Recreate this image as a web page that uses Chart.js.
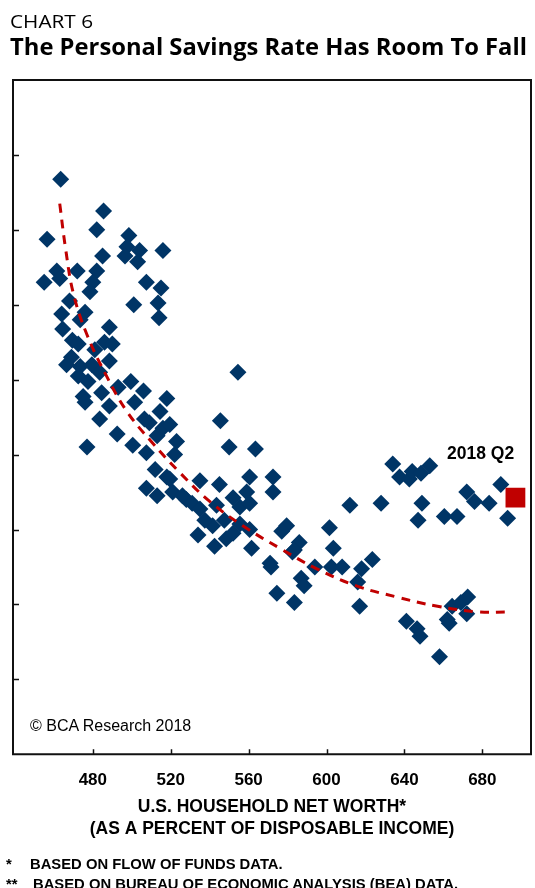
<!DOCTYPE html>
<html>
<head>
<meta charset="utf-8">
<script src="https://cdn.jsdelivr.net/npm/chart.js@4.4.1/dist/chart.umd.min.js"></script>
<style>
  html, body { margin: 0; padding: 0; background: #fff; }
  body { width: 535px; height: 888px; position: relative; overflow: hidden; }
  canvas { position: absolute; left: 0; top: 0; }
  .t { position: absolute; white-space: nowrap; line-height: 1; color: #000; transform-origin: 0 0; }
  .arial { font-family: 'Liberation Sans', Arial, sans-serif; }
  .note { font-size: 14.8px; font-weight: 700; }
</style>
</head>
<body>
<canvas id="chart" width="535" height="888"></canvas>

<div class="t" id="kicker" style="left:10px;top:12px;font-family:'Open Sans';font-size:18px;">CHART 6</div>
<div class="t" id="headline" style="left:10px;top:34.6px;font-family:'Open Sans';font-size:23px;font-weight:700;">The Personal Savings Rate Has Room To Fall</div>
<div class="t arial" id="copy" style="left:30px;top:717.5px;font-size:16px;">© BCA Research 2018</div>
<div class="t arial" id="latest" style="left:447px;top:445px;font-size:17.5px;font-weight:700;">2018 Q2</div>
<div class="t arial note" style="left:6px;top:857px;">*</div>
<div class="t arial note" style="left:30px;top:857px;">BASED ON FLOW OF FUNDS DATA.</div>
<div class="t arial note" style="left:6px;top:877px;">**</div>
<div class="t arial note" style="left:33px;top:877px;">BASED ON BUREAU OF ECONOMIC ANALYSIS (BEA) DATA.</div>

<script>
// household net worth (% of disposable income) vs personal savings rate
const netWorth = [
  463.5, 485.5, 456.5, 482, 498.5, 497.5, 504, 496.5, 503, 516,
  485, 461.5, 472, 455, 463, 482, 480, 478.5, 507.5, 515,
  468, 476, 501, 513.5, 514, 464, 473.5, 464.5, 488.5, 486,
  490, 469.5, 472.5, 469, 466.5, 473.5, 479.5, 472.5, 477.5, 493,
  499.5, 506, 484.5, 475, 518, 476, 501.5, 488.5, 483.5, 477,
  492.5, 500.5, 509, 513, 523, 522, 507.5, 512, 518, 507.5,
  513, 521, 528, 534, 516, 554.5, 545.5, 550, 563.5, 519.5,
  526, 535, 531, 535, 545, 560.5, 572.5, 572.5, 559, 552,
  555.5, 560.5, 543.5, 541.5, 542.5, 548.5, 552, 561.5, 560.5, 571,
  579.5, 582.5, 577, 586, 583.5, 571.5, 574.5, 583.5, 587, 588.5,
  594, 601.5, 603.5, 602.5, 608, 618, 616, 623.5, 617, 612,
  628, 634, 637.5, 642.5, 644, 648.5, 653, 649, 647, 660.5,
  667, 672, 676, 683.5, 689.5, 693, 641, 646.5, 648, 663,
  664.5, 669, 672.5, 672, 658, 662, 514.5, 519.5, 506.5, 481,
  483.5, 488.5, 537.5, 547.5, 555.5
];
const savingsRate = [
  15.35, 14.5, 13.75, 14, 13.85, 13.55, 13.45, 13.3, 13.15, 13.45,
  13.3, 12.9, 12.9, 12.6, 12.7, 12.9, 12.6, 12.35, 12.6, 12.45,
  12.1, 11.8, 12, 12.05, 11.65, 11.75, 11.6, 11.35, 11.4, 11,
  10.95, 11.05, 10.95, 10.6, 10.4, 10.35, 10.4, 10.1, 9.95, 9.8,
  9.95, 9.7, 9.65, 9.55, 9.5, 9.4, 9.4, 9.3, 8.95, 8.2,
  8.55, 8.25, 8.85, 8.5, 8.35, 8, 8.05, 7.6, 7.4, 7.1,
  6.9, 7, 6.8, 5.85, 8.7, 10.2, 8.9, 8.2, 8.15, 7.35,
  6.9, 7.3, 6.7, 6.55, 7.2, 7.4, 7.4, 7, 7, 6.85,
  6.6, 6.7, 6.65, 6.1, 5.55, 5.75, 5.9, 5.5, 6, 5.1,
  6.1, 5.4, 5.95, 5.65, 5.45, 5, 4.3, 4.05, 4.7, 4.5,
  5, 6.05, 5.5, 5, 5, 4.95, 4.6, 5.2, 3.95, 6.65,
  6.7, 7.75, 7.4, 7.35, 7.55, 7.5, 7.7, 6.7, 6.25, 6.35,
  6.35, 7, 6.75, 6.7, 7.2, 6.3, 3.55, 3.35, 3.15, 3.5,
  3.95, 4.05, 4.2, 3.75, 2.6, 3.6, 9.15, 8.8, 8.95, 10.8,
  10.2, 10.5, 6.25, 6.25, 6.15
];

// fitted curve (red dashed)
const fitNetWorth = [463, 466, 470, 477, 487, 497.5, 510, 525, 540, 557, 576, 595, 615, 636, 657, 678, 693];
const fitSavings  = [14.7, 13.5, 12.3, 11.2, 10.1, 9.15, 8.35, 7.5, 6.75, 6.1, 5.5, 4.95, 4.5, 4.2, 3.95, 3.8, 3.8];

// 2018 Q2 observation
const latestNetWorth = [697];
const latestSavings = [6.85];

const xTickValues = [480, 520, 560, 600, 640, 680];
const yTickValues = [2, 4, 6, 8, 10, 12, 14, 16];

const navy = '#003566';
const red = '#c00000';

function fit(id, w) {
  const el = document.getElementById(id);
  const r = el.getBoundingClientRect().width;
  el.style.transform = 'scaleX(' + (w / r) + ')';
}
fit('kicker', 83);
fit('headline', 517);

const framePlugin = {
  id: 'frame',
  afterDraw(chart) {
    const { ctx, chartArea: a, scales } = chart;
    ctx.save();
    ctx.strokeStyle = '#111';
    ctx.lineWidth = 2;
    ctx.strokeRect(a.left, a.top, a.right - a.left, a.bottom - a.top);
    ctx.lineWidth = 1.5;
    ctx.beginPath();
    yTickValues.forEach(v => {
      const y = Math.round(scales.y.getPixelForValue(v)) + 0.5;
      ctx.moveTo(a.left, y);
      ctx.lineTo(a.left + 6, y);
    });
    xTickValues.forEach(v => {
      const x = Math.round(scales.x.getPixelForValue(v)) + 0.5;
      ctx.moveTo(x, a.bottom);
      ctx.lineTo(x, a.bottom - 5);
    });
    ctx.stroke();
    ctx.restore();
  }
};

new Chart(document.getElementById('chart'), {
  type: 'scatter',
  data: {
    datasets: [
      {
        data: latestNetWorth.map((x, i) => ({ x, y: latestSavings[i] })),
        pointStyle: 'rect',
        pointRadius: 14,
        backgroundColor: red,
        borderWidth: 0,
        order: 0
      },
      {
        data: fitNetWorth.map((x, i) => ({ x, y: fitSavings[i] })),
        showLine: true,
        tension: 0.4,
        pointRadius: 0,
        borderColor: red,
        borderWidth: 3,
        borderDash: [9, 7],
        borderCapStyle: 'butt',
        order: 1
      },
      {
        data: netWorth.map((x, i) => ({ x, y: savingsRate[i] })),
        pointStyle: 'rectRot',
        pointRadius: 8.5,
        backgroundColor: navy,
        borderWidth: 0,
        order: 2
      }
    ]
  },
  options: {
    responsive: false,
    animation: false,
    events: [],
    layout: { autoPadding: false, padding: { left: 13, right: 4, top: 80, bottom: 43.6 } },
    plugins: { legend: { display: false }, tooltip: { enabled: false } },
    scales: {
      x: {
        type: 'linear',
        min: 439,
        max: 705,
        afterBuildTicks: s => { s.ticks = xTickValues.map(v => ({ value: v })); },
        grid: { display: false, drawTicks: false },
        border: { display: false },
        ticks: {
          padding: 16,
          color: '#000',
          font: { family: "'Liberation Sans', Arial, sans-serif", size: 17, weight: 'bold' }
        },
        title: {
          display: true,
          text: ['U.S. HOUSEHOLD NET WORTH*', '(AS A PERCENT OF DISPOSABLE INCOME)'],
          color: '#000',
          padding: { top: -10, bottom: 4 },
          font: { family: "'Liberation Sans', Arial, sans-serif", size: 17.5, weight: 'bold', lineHeight: 1.25 }
        }
      },
      y: {
        type: 'linear',
        min: 0,
        max: 18,
        display: false
      }
    }
  },
  plugins: [framePlugin]
});
</script>
</body>
</html>
